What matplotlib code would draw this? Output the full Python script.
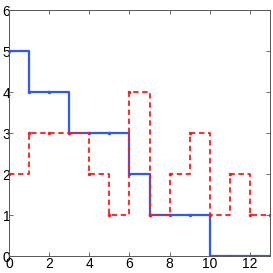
import matplotlib
matplotlib.use("Agg")
import matplotlib.pyplot as plt
import numpy as np

x = list(range(14))
blue_y = [5, 4, 4, 3, 3, 3, 2, 1, 1, 1, 0, 0, 0, 0]
red_y = [2, 3, 3, 3, 2, 1, 4, 1, 2, 3, 1, 2, 1, 1]
xticks = [0, 2, 4, 6, 8, 10, 12]
yticks = [0, 1, 2, 3, 4, 5, 6]

fig = plt.figure(figsize=(2.73, 2.73), dpi=100)
ax = fig.add_axes([0.033, 0.062, 0.956, 0.901])

ax.step(x, blue_y, where='post', color='#3355ff', lw=1.6, marker='.', ms=3)
ax.step(x, red_y, where='post', color='#ff1a1a', lw=1.3, ls=(0, (3, 2)), marker='.', ms=3)

ax.set_xlim(0, 13)
ax.set_ylim(0, 6)
ax.set_xticks(xticks)
ax.set_yticks(yticks)
ax.tick_params(direction='in', top=True, right=True, length=3, width=0.6,
               labelsize=10, pad=1, color='#555555')
ax.tick_params(axis='y', pad=-1)
for s in ax.spines.values():
    s.set_linewidth(0.7)
    s.set_color('#555555')
for lab in ax.get_xticklabels() + ax.get_yticklabels():
    lab.set_fontfamily('Liberation Sans')

fig.savefig('out.png', dpi=100)
